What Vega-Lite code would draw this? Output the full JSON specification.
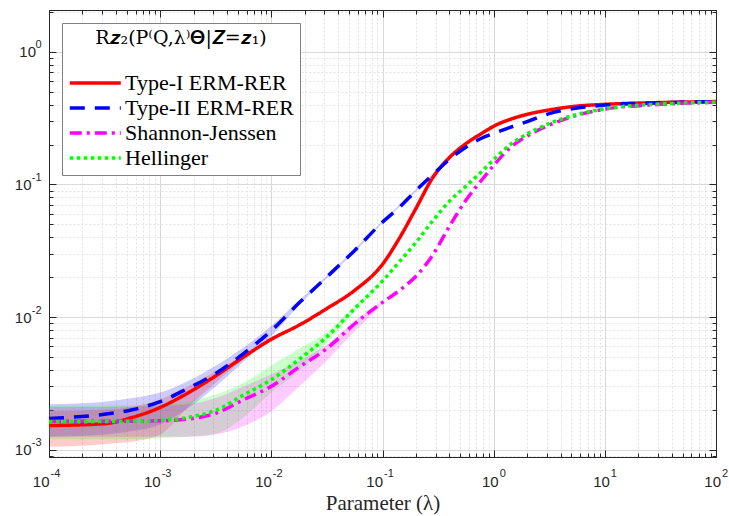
{
  "$schema": "https://vega.github.io/schema/vega-lite/v6.json",
  "width": 667,
  "height": 447,
  "autosize": {"type": "none"},
  "padding": {"left": 49, "top": 10, "right": 13, "bottom": 59},
  "background": "white",
  "config": {
    "view": {"stroke": "#262626", "strokeWidth": 1},
    "axis": {
      "domainColor": "#262626",
      "tickColor": "#262626",
      "labelColor": "#262626",
      "labelFont": "Liberation Sans",
      "labelFontSize": 15,
      "titleFont": "Liberation Serif",
      "titleFontSize": 21,
      "titleFontWeight": "normal",
      "titleColor": "#262626",
      "labelOverlap": false,
      "labelFlush": false,
      "labelBound": false
    },
    "legend": {
      "orient": "top-left", "offset": 13,
      "fillColor": "white", "strokeColor": "#808080", "padding": 6,
      "titleFont": "DejaVu Serif", "titleFontSize": 19, "titleFontWeight": "normal", "titleColor": "black",
      "titleAnchor": "middle", "titlePadding": 23, "titleLimit": 400,
      "labelFont": "Liberation Serif", "labelFontSize": 22, "labelColor": "black", "labelLimit": 400, "labelOffset": 33,
      "symbolType": "M-1,0H4", "symbolSize": 416, "symbolStrokeWidth": 3.5, "rowPadding": 2
    }
  },
  "datasets": {
    "lines": [
      {"s": "Type-I ERM-RER", "x": 0.0001, "y": 0.00152},
      {"s": "Type-I ERM-RER", "x": 0.000316, "y": 0.00157},
      {"s": "Type-I ERM-RER", "x": 0.000562, "y": 0.00175},
      {"s": "Type-I ERM-RER", "x": 0.001, "y": 0.00208},
      {"s": "Type-I ERM-RER", "x": 0.00178, "y": 0.00268},
      {"s": "Type-I ERM-RER", "x": 0.00316, "y": 0.0036},
      {"s": "Type-I ERM-RER", "x": 0.00562, "y": 0.005},
      {"s": "Type-I ERM-RER", "x": 0.01, "y": 0.0068},
      {"s": "Type-I ERM-RER", "x": 0.0178, "y": 0.0087},
      {"s": "Type-I ERM-RER", "x": 0.0316, "y": 0.0116},
      {"s": "Type-I ERM-RER", "x": 0.0562, "y": 0.0159},
      {"s": "Type-I ERM-RER", "x": 0.1, "y": 0.025},
      {"s": "Type-I ERM-RER", "x": 0.141, "y": 0.039},
      {"s": "Type-I ERM-RER", "x": 0.2, "y": 0.066},
      {"s": "Type-I ERM-RER", "x": 0.282, "y": 0.112},
      {"s": "Type-I ERM-RER", "x": 0.398, "y": 0.159},
      {"s": "Type-I ERM-RER", "x": 0.562, "y": 0.203},
      {"s": "Type-I ERM-RER", "x": 0.794, "y": 0.245},
      {"s": "Type-I ERM-RER", "x": 1, "y": 0.275},
      {"s": "Type-I ERM-RER", "x": 1.41, "y": 0.31},
      {"s": "Type-I ERM-RER", "x": 2, "y": 0.338},
      {"s": "Type-I ERM-RER", "x": 3.16, "y": 0.365},
      {"s": "Type-I ERM-RER", "x": 5.62, "y": 0.39},
      {"s": "Type-I ERM-RER", "x": 10, "y": 0.402},
      {"s": "Type-I ERM-RER", "x": 31.6, "y": 0.415},
      {"s": "Type-I ERM-RER", "x": 100, "y": 0.422},
      {"s": "Type-II ERM-RER", "x": 0.0001, "y": 0.00172},
      {"s": "Type-II ERM-RER", "x": 0.000316, "y": 0.00185},
      {"s": "Type-II ERM-RER", "x": 0.000562, "y": 0.002},
      {"s": "Type-II ERM-RER", "x": 0.001, "y": 0.0023},
      {"s": "Type-II ERM-RER", "x": 0.00178, "y": 0.0029},
      {"s": "Type-II ERM-RER", "x": 0.00316, "y": 0.00375},
      {"s": "Type-II ERM-RER", "x": 0.00562, "y": 0.0053},
      {"s": "Type-II ERM-RER", "x": 0.01, "y": 0.0079},
      {"s": "Type-II ERM-RER", "x": 0.0178, "y": 0.0128},
      {"s": "Type-II ERM-RER", "x": 0.0316, "y": 0.0201},
      {"s": "Type-II ERM-RER", "x": 0.0562, "y": 0.0318},
      {"s": "Type-II ERM-RER", "x": 0.1, "y": 0.052},
      {"s": "Type-II ERM-RER", "x": 0.141, "y": 0.067},
      {"s": "Type-II ERM-RER", "x": 0.2, "y": 0.09},
      {"s": "Type-II ERM-RER", "x": 0.282, "y": 0.118},
      {"s": "Type-II ERM-RER", "x": 0.398, "y": 0.154},
      {"s": "Type-II ERM-RER", "x": 0.562, "y": 0.191},
      {"s": "Type-II ERM-RER", "x": 0.794, "y": 0.225},
      {"s": "Type-II ERM-RER", "x": 1, "y": 0.243},
      {"s": "Type-II ERM-RER", "x": 1.41, "y": 0.27},
      {"s": "Type-II ERM-RER", "x": 2, "y": 0.298},
      {"s": "Type-II ERM-RER", "x": 3.16, "y": 0.342},
      {"s": "Type-II ERM-RER", "x": 5.62, "y": 0.377},
      {"s": "Type-II ERM-RER", "x": 10, "y": 0.397},
      {"s": "Type-II ERM-RER", "x": 31.6, "y": 0.413},
      {"s": "Type-II ERM-RER", "x": 100, "y": 0.422},
      {"s": "Shannon-Jenssen", "x": 0.0001, "y": 0.00164},
      {"s": "Shannon-Jenssen", "x": 0.000316, "y": 0.00164},
      {"s": "Shannon-Jenssen", "x": 0.000562, "y": 0.00164},
      {"s": "Shannon-Jenssen", "x": 0.001, "y": 0.00165},
      {"s": "Shannon-Jenssen", "x": 0.00178, "y": 0.0017},
      {"s": "Shannon-Jenssen", "x": 0.00316, "y": 0.00188},
      {"s": "Shannon-Jenssen", "x": 0.00562, "y": 0.00238},
      {"s": "Shannon-Jenssen", "x": 0.01, "y": 0.003},
      {"s": "Shannon-Jenssen", "x": 0.0178, "y": 0.0042},
      {"s": "Shannon-Jenssen", "x": 0.0316, "y": 0.0058},
      {"s": "Shannon-Jenssen", "x": 0.0562, "y": 0.0089},
      {"s": "Shannon-Jenssen", "x": 0.1, "y": 0.0129},
      {"s": "Shannon-Jenssen", "x": 0.141, "y": 0.0158},
      {"s": "Shannon-Jenssen", "x": 0.2, "y": 0.0203},
      {"s": "Shannon-Jenssen", "x": 0.282, "y": 0.0292},
      {"s": "Shannon-Jenssen", "x": 0.398, "y": 0.048},
      {"s": "Shannon-Jenssen", "x": 0.562, "y": 0.0759},
      {"s": "Shannon-Jenssen", "x": 0.794, "y": 0.11},
      {"s": "Shannon-Jenssen", "x": 1, "y": 0.139},
      {"s": "Shannon-Jenssen", "x": 1.41, "y": 0.19},
      {"s": "Shannon-Jenssen", "x": 2, "y": 0.232},
      {"s": "Shannon-Jenssen", "x": 3.16, "y": 0.281},
      {"s": "Shannon-Jenssen", "x": 5.62, "y": 0.333},
      {"s": "Shannon-Jenssen", "x": 10, "y": 0.37},
      {"s": "Shannon-Jenssen", "x": 31.6, "y": 0.402},
      {"s": "Shannon-Jenssen", "x": 100, "y": 0.417},
      {"s": "Hellinger", "x": 0.0001, "y": 0.00162},
      {"s": "Hellinger", "x": 0.000316, "y": 0.00163},
      {"s": "Hellinger", "x": 0.000562, "y": 0.00164},
      {"s": "Hellinger", "x": 0.001, "y": 0.00166},
      {"s": "Hellinger", "x": 0.00178, "y": 0.00175},
      {"s": "Hellinger", "x": 0.00316, "y": 0.00198},
      {"s": "Hellinger", "x": 0.00562, "y": 0.00258},
      {"s": "Hellinger", "x": 0.01, "y": 0.00337},
      {"s": "Hellinger", "x": 0.0178, "y": 0.0048},
      {"s": "Hellinger", "x": 0.0316, "y": 0.0071},
      {"s": "Hellinger", "x": 0.0562, "y": 0.0116},
      {"s": "Hellinger", "x": 0.1, "y": 0.0187},
      {"s": "Hellinger", "x": 0.141, "y": 0.026},
      {"s": "Hellinger", "x": 0.2, "y": 0.0365},
      {"s": "Hellinger", "x": 0.282, "y": 0.053},
      {"s": "Hellinger", "x": 0.398, "y": 0.0744},
      {"s": "Hellinger", "x": 0.562, "y": 0.097},
      {"s": "Hellinger", "x": 0.794, "y": 0.127},
      {"s": "Hellinger", "x": 1, "y": 0.154},
      {"s": "Hellinger", "x": 1.41, "y": 0.2},
      {"s": "Hellinger", "x": 2, "y": 0.24},
      {"s": "Hellinger", "x": 3.16, "y": 0.288},
      {"s": "Hellinger", "x": 5.62, "y": 0.338},
      {"s": "Hellinger", "x": 10, "y": 0.372},
      {"s": "Hellinger", "x": 31.6, "y": 0.405},
      {"s": "Hellinger", "x": 100, "y": 0.417}
    ],
    "bands": [
      {"s": "Type-II ERM-RER", "x": 0.0001, "lo": 0.00125, "hi": 0.0022},
      {"s": "Type-II ERM-RER", "x": 0.000316, "lo": 0.0013, "hi": 0.0023},
      {"s": "Type-II ERM-RER", "x": 0.000562, "lo": 0.00138, "hi": 0.00245},
      {"s": "Type-II ERM-RER", "x": 0.001, "lo": 0.00155, "hi": 0.0027},
      {"s": "Type-II ERM-RER", "x": 0.00178, "lo": 0.00205, "hi": 0.0033},
      {"s": "Type-II ERM-RER", "x": 0.00316, "lo": 0.003, "hi": 0.0043},
      {"s": "Type-II ERM-RER", "x": 0.00562, "lo": 0.0046, "hi": 0.0059},
      {"s": "Type-II ERM-RER", "x": 0.01, "lo": 0.0072, "hi": 0.0086},
      {"s": "Type-II ERM-RER", "x": 0.0178, "lo": 0.0123, "hi": 0.0134},
      {"s": "Type-II ERM-RER", "x": 0.0316, "lo": 0.0196, "hi": 0.0206},
      {"s": "Type-II ERM-RER", "x": 0.0562, "lo": 0.031, "hi": 0.0326},
      {"s": "Type-II ERM-RER", "x": 0.1, "lo": 0.051, "hi": 0.053},
      {"s": "Type-II ERM-RER", "x": 0.2, "lo": 0.088, "hi": 0.092},
      {"s": "Type-II ERM-RER", "x": 0.398, "lo": 0.151, "hi": 0.157},
      {"s": "Type-I ERM-RER", "x": 0.0001, "lo": 0.00105, "hi": 0.00195},
      {"s": "Type-I ERM-RER", "x": 0.000316, "lo": 0.0011, "hi": 0.002},
      {"s": "Type-I ERM-RER", "x": 0.000562, "lo": 0.00115, "hi": 0.0021},
      {"s": "Type-I ERM-RER", "x": 0.001, "lo": 0.0013, "hi": 0.0024},
      {"s": "Type-I ERM-RER", "x": 0.00178, "lo": 0.0021, "hi": 0.003},
      {"s": "Type-I ERM-RER", "x": 0.00316, "lo": 0.0032, "hi": 0.0039},
      {"s": "Type-I ERM-RER", "x": 0.00562, "lo": 0.0048, "hi": 0.0052},
      {"s": "Type-I ERM-RER", "x": 0.01, "lo": 0.0067, "hi": 0.0069},
      {"s": "Hellinger", "x": 0.0001, "lo": 0.0012, "hi": 0.00215},
      {"s": "Hellinger", "x": 0.000316, "lo": 0.0012, "hi": 0.00215},
      {"s": "Hellinger", "x": 0.001, "lo": 0.00122, "hi": 0.0022},
      {"s": "Hellinger", "x": 0.00178, "lo": 0.00125, "hi": 0.0023},
      {"s": "Hellinger", "x": 0.00316, "lo": 0.00132, "hi": 0.0026},
      {"s": "Hellinger", "x": 0.00562, "lo": 0.00175, "hi": 0.0032},
      {"s": "Hellinger", "x": 0.01, "lo": 0.0027, "hi": 0.0043},
      {"s": "Hellinger", "x": 0.0178, "lo": 0.0039, "hi": 0.0058},
      {"s": "Hellinger", "x": 0.0316, "lo": 0.0064, "hi": 0.0077},
      {"s": "Hellinger", "x": 0.0562, "lo": 0.011, "hi": 0.0121},
      {"s": "Hellinger", "x": 0.1, "lo": 0.0183, "hi": 0.019},
      {"s": "Shannon-Jenssen", "x": 0.0001, "lo": 0.00125, "hi": 0.0021},
      {"s": "Shannon-Jenssen", "x": 0.000316, "lo": 0.00125, "hi": 0.0021},
      {"s": "Shannon-Jenssen", "x": 0.001, "lo": 0.00125, "hi": 0.00215},
      {"s": "Shannon-Jenssen", "x": 0.00178, "lo": 0.00125, "hi": 0.0022},
      {"s": "Shannon-Jenssen", "x": 0.00316, "lo": 0.0013, "hi": 0.00245},
      {"s": "Shannon-Jenssen", "x": 0.00562, "lo": 0.0015, "hi": 0.003},
      {"s": "Shannon-Jenssen", "x": 0.01, "lo": 0.00195, "hi": 0.0037},
      {"s": "Shannon-Jenssen", "x": 0.0178, "lo": 0.003, "hi": 0.0047},
      {"s": "Shannon-Jenssen", "x": 0.0316, "lo": 0.0047, "hi": 0.0062},
      {"s": "Shannon-Jenssen", "x": 0.0562, "lo": 0.0078, "hi": 0.0093},
      {"s": "Shannon-Jenssen", "x": 0.1, "lo": 0.0125, "hi": 0.0132}
    ]
  },
  "layer": [
    {
      "data": {"name": "bands"},
      "mark": {"type": "area", "interpolate": "monotone", "fillOpacity": 0.2},
      "encoding": {
        "x": {"field": "x", "type": "quantitative", "scale": {"type": "log", "domain": [0.0001, 100], "nice": false}, "axis": null},
        "y": {"field": "lo", "type": "quantitative", "scale": {"type": "log", "domain": [0.00088, 2.07], "nice": false}, "axis": null},
        "y2": {"field": "hi"},
        "fill": {"field": "s", "type": "nominal", "legend": null,
          "scale": {"domain": ["Hellinger", "Shannon-Jenssen", "Type-II ERM-RER", "Type-I ERM-RER"], "range": ["#00ff00", "#ff00ff", "#0000ff", "#ff0000"]}}
      }
    },
    {
      "data": {"name": "lines"},
      "mark": {"type": "line", "interpolate": "monotone", "strokeWidth": 3.5, "strokeCap": "butt"},
      "encoding": {
        "x": {"field": "x", "type": "quantitative", "title": "Parameter (λ)",
          "scale": {"type": "log", "domain": [0.0001, 100], "nice": false},
          "axis": {
            "orient": "bottom",
            "values": [0.0001,0.0002,0.0003,0.0004,0.0005,0.0006,0.0007,0.0008,0.0009,0.001,0.002,0.003,0.004,0.005,0.006,0.007,0.008,0.009,0.01,0.02,0.03,0.04,0.05,0.06,0.07,0.08,0.09,0.1,0.2,0.3,0.4,0.5,0.6,0.7,0.8,0.9,1,2,3,4,5,6,7,8,9,10,20,30,40,50,60,70,80,90,100],
            "grid": true,
            "gridColor": {"condition": {"test": "abs(log(datum.value)/LN10 - round(log(datum.value)/LN10)) < 0.001", "value": "#d9d9d9"}, "value": "#e3e3e3"},
            "gridDash": {"condition": {"test": "abs(log(datum.value)/LN10 - round(log(datum.value)/LN10)) < 0.001", "value": []}, "value": [2, 2]},
            "tickSize": {"condition": {"test": "abs(log(datum.value)/LN10 - round(log(datum.value)/LN10)) < 0.001", "value": -7}, "value": -4},
            "labelExpr": "abs(log(datum.value)/LN10 - round(log(datum.value)/LN10)) < 0.001 ? '10' : ''",
            "labelAlign": "right",
            "labelBaseline": "middle",
            "labelOffset": {"condition": {"test": "datum.value < 0.9", "value": 0}, "value": 4.5},
            "labelPadding": 31,
            "titlePadding": 0
          }
        },
        "y": {"field": "y", "type": "quantitative", "title": null,
          "scale": {"type": "log", "domain": [0.00088, 2.07], "nice": false},
          "axis": {
            "orient": "left",
            "values": [0.0009,0.001,0.002,0.003,0.004,0.005,0.006,0.007,0.008,0.009,0.01,0.02,0.03,0.04,0.05,0.06,0.07,0.08,0.09,0.1,0.2,0.3,0.4,0.5,0.6,0.7,0.8,0.9,1,2],
            "grid": true,
            "gridColor": {"condition": {"test": "abs(log(datum.value)/LN10 - round(log(datum.value)/LN10)) < 0.001", "value": "#d9d9d9"}, "value": "#e3e3e3"},
            "gridDash": {"condition": {"test": "abs(log(datum.value)/LN10 - round(log(datum.value)/LN10)) < 0.001", "value": []}, "value": [2, 2]},
            "tickSize": {"condition": {"test": "abs(log(datum.value)/LN10 - round(log(datum.value)/LN10)) < 0.001", "value": -7}, "value": -4},
            "labelExpr": "abs(log(datum.value)/LN10 - round(log(datum.value)/LN10)) < 0.001 ? '10' : ''",
            "labelAlign": "right",
            "labelBaseline": "middle",
            "labelPadding": {"condition": {"test": "datum.value < 0.9", "value": 25}, "value": 20.5}
          }
        },
        "color": {"field": "s", "type": "nominal",
          "scale": {"domain": ["Type-I ERM-RER", "Type-II ERM-RER", "Shannon-Jenssen", "Hellinger"], "range": ["#ff0000", "#0000ff", "#ff00ff", "#00ff00"]},
          "legend": {"title": "R𝒛₂(P⁽Q,λ⁾𝚯|𝒁=𝒛₁)", "symbolType": "M-1,0H4"}},
        "strokeDash": {"field": "s", "type": "nominal",
          "scale": {"domain": ["Type-I ERM-RER", "Type-II ERM-RER", "Shannon-Jenssen", "Hellinger"], "range": [[1, 0], [15, 10], [12, 5, 3, 5], [3.5, 3.5]]},
          "legend": {"title": "R𝒛₂(P⁽Q,λ⁾𝚯|𝒁=𝒛₁)", "symbolType": "M-1,0H4"}}
      }
    },
    {
      "data": {"name": "lines"},
      "mark": {"type": "line", "strokeOpacity": 0},
      "encoding": {
        "x": {"field": "x", "type": "quantitative", "title": null,
          "scale": {"type": "log", "domain": [0.0001, 100], "nice": false},
          "axis": {
            "orient": "top", "labels": false, "grid": false,
            "values": [0.0001,0.0002,0.0003,0.0004,0.0005,0.0006,0.0007,0.0008,0.0009,0.001,0.002,0.003,0.004,0.005,0.006,0.007,0.008,0.009,0.01,0.02,0.03,0.04,0.05,0.06,0.07,0.08,0.09,0.1,0.2,0.3,0.4,0.5,0.6,0.7,0.8,0.9,1,2,3,4,5,6,7,8,9,10,20,30,40,50,60,70,80,90,100],
            "tickSize": {"condition": {"test": "abs(log(datum.value)/LN10 - round(log(datum.value)/LN10)) < 0.001", "value": -7}, "value": -4}
          }
        },
        "y": {"field": "y", "type": "quantitative", "title": null,
          "scale": {"type": "log", "domain": [0.00088, 2.07], "nice": false},
          "axis": {
            "orient": "right", "labels": false, "grid": false,
            "values": [0.0009,0.001,0.002,0.003,0.004,0.005,0.006,0.007,0.008,0.009,0.01,0.02,0.03,0.04,0.05,0.06,0.07,0.08,0.09,0.1,0.2,0.3,0.4,0.5,0.6,0.7,0.8,0.9,1,2],
            "tickSize": {"condition": {"test": "abs(log(datum.value)/LN10 - round(log(datum.value)/LN10)) < 0.001", "value": -7}, "value": -4}
          }
        },
        "detail": {"field": "s"}
      }
    },
    {
      "data": {"name": "lines"},
      "mark": {"type": "line", "strokeOpacity": 0},
      "encoding": {
        "x": {"field": "x", "type": "quantitative", "title": null,
          "scale": {"type": "log", "domain": [0.0001, 100], "nice": false},
          "axis": {
            "orient": "bottom", "grid": false, "domain": false,
            "values": [0.0001,0.001,0.01,0.1,1,10,100],
            "tickSize": -7, "tickOpacity": 0,
            "labelExpr": "'' + round(log(datum.value)/LN10)",
            "labelFontSize": 11,
            "labelAlign": "left",
            "labelBaseline": "middle",
            "labelOffset": {"condition": {"test": "datum.value < 0.9", "value": 1}, "value": 5.5},
            "labelPadding": 23
          }
        },
        "y": {"field": "y", "type": "quantitative", "title": null,
          "scale": {"type": "log", "domain": [0.00088, 2.07], "nice": false},
          "axis": {
            "orient": "left", "grid": false, "domain": false,
            "values": [0.001,0.01,0.1,1],
            "tickSize": -7, "tickOpacity": 0,
            "labelExpr": "'' + round(log(datum.value)/LN10)",
            "labelFontSize": 11,
            "labelAlign": "right",
            "labelBaseline": "middle",
            "labelOffset": -7,
            "labelPadding": 15
          }
        },
        "detail": {"field": "s"}
      }
    }
  ],
  "resolve": {"axis": {"x": "independent", "y": "independent"}}
}
